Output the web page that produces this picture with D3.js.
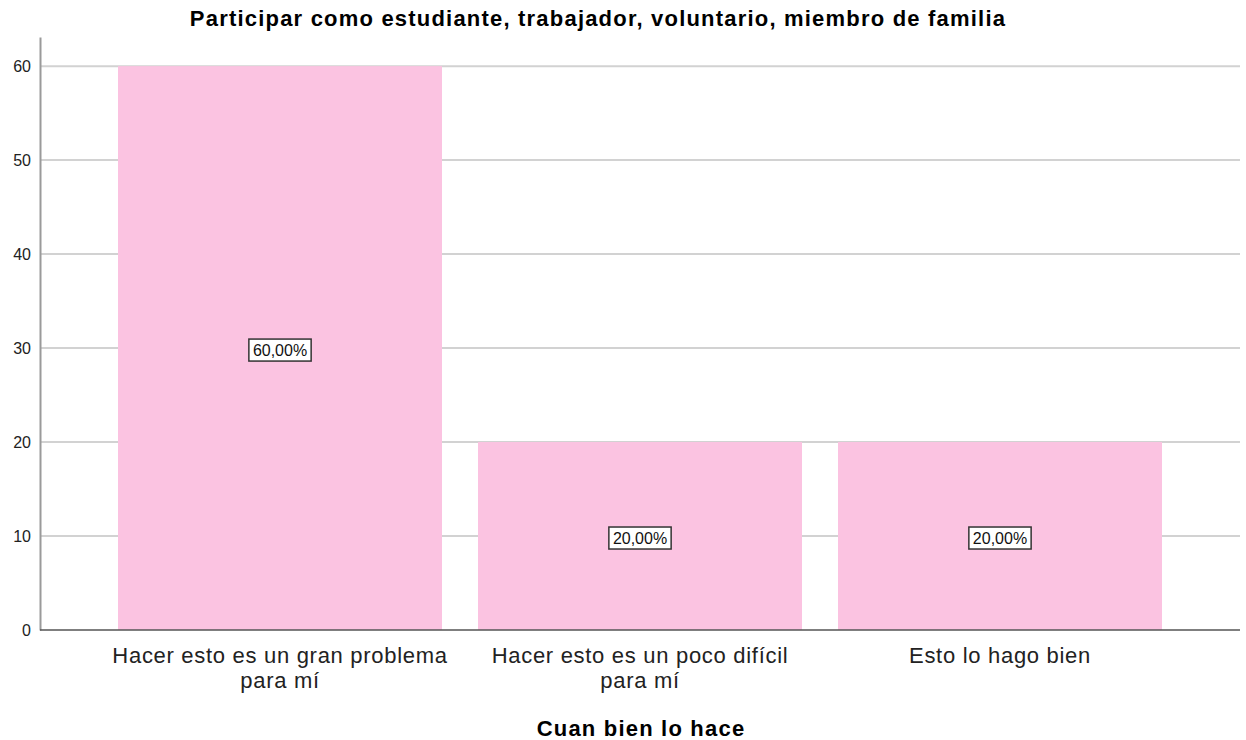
<!DOCTYPE html>
<html>
<head>
<meta charset="utf-8">
<script src="https://cdn.jsdelivr.net/npm/d3@7"></script>
<style>
  body { margin: 0; background: #fff; }
  text { font-family: "Liberation Sans", Arial, sans-serif; }
</style>
</head>
<body>
<svg id="chart" width="1246" height="740"></svg>
<script>
// chart data
var categories = ["Hacer esto es un gran problema\npara mí", "Hacer esto es un poco difícil\npara mí", "Esto lo hago bien"];
var values = [60, 20, 20];
var valueLabels = ["60,00%", "20,00%", "20,00%"];
var yTicks = [0, 10, 20, 30, 40, 50, 60];

var svg = d3.select("#chart");
var left = 40, right = 1240, bottom = 630;

// scales
var x = d3.scaleBand()
    .range([left, right])
    .domain(categories)
    .paddingInner(0.1)
    .paddingOuter(0.2167);

var y = d3.scaleLinear()
    .domain([0, 63.1])
    .range([bottom, 37]);

// gridlines
svg.append("g")
    .selectAll("line")
    .data(yTicks.slice(1))
    .enter()
    .append("line")
    .attr("x1", left)
    .attr("x2", right)
    .attr("y1", d => y(d))
    .attr("y2", d => y(d))
    .attr("stroke", "#d2d2d2")
    .attr("stroke-width", 2);

// bars
svg.append("g")
    .selectAll("rect")
    .data(values)
    .enter()
    .append("rect")
    .attr("x", (d, i) => x(categories[i]))
    .attr("y", d => y(d))
    .attr("width", x.bandwidth())
    .attr("height", d => bottom - y(d))
    .attr("fill", "#fbc3e1");

// y axis
var yAxis = svg.append("g")
    .attr("transform", "translate(" + left + ",0)")
    .call(d3.axisLeft(y).tickValues(yTicks).tickSize(0).tickPadding(9));
yAxis.select(".domain").attr("stroke", "#9a9a9a").attr("stroke-width", 2);
yAxis.selectAll("text")
    .style("font-size", "16px")
    .attr("fill", "#222");

// x axis
var xAxis = svg.append("g")
    .attr("transform", "translate(0," + bottom + ")")
    .call(d3.axisBottom(x).tickSize(0).tickPadding(0));
xAxis.select(".domain")
    .attr("d", "M" + left + ",0H" + right)
    .attr("stroke", "#555")
    .attr("stroke-width", 1.5);
xAxis.selectAll("text").each(function(d) {
    var t = d3.select(this).text("").attr("y", 0).attr("dy", null)
        .style("font-size", "22px")
        .style("letter-spacing", "0.7px")
        .attr("fill", "#222");
    d.split("\n").forEach((line, i) => {
        t.append("tspan")
            .attr("x", 0)
            .attr("y", 33 + i * 25)
            .text(line);
    });
});

// value labels in boxes
var labels = svg.append("g")
    .selectAll("g")
    .data(values)
    .enter()
    .append("g")
    .attr("transform", (d, i) => "translate(" + (x(categories[i]) + x.bandwidth() / 2) + "," + (y(d / 2) + 2) + ")");

labels.append("text")
    .attr("text-anchor", "middle")
    .attr("dy", "0.36em")
    .style("font-size", "16px")
    .attr("fill", "#111")
    .text((d, i) => valueLabels[i])
    .each(function() {
        var b = this.getBBox();
        d3.select(this.parentNode).insert("rect", "text")
            .attr("x", b.x - 4)
            .attr("y", -11)
            .attr("width", b.width + 8)
            .attr("height", 22)
            .attr("fill", "#fff")
            .attr("stroke", "#333")
            .attr("stroke-width", 1.5);
    });

// titles
svg.append("text")
    .attr("x", 598)
    .attr("y", 26)
    .attr("text-anchor", "middle")
    .style("font-size", "22px")
    .style("letter-spacing", "1.2px")
    .style("font-weight", "bold")
    .text("Participar como estudiante, trabajador, voluntario, miembro de familia");

svg.append("text")
    .attr("x", 641)
    .attr("y", 736)
    .attr("text-anchor", "middle")
    .style("font-size", "22px")
    .style("letter-spacing", "1.2px")
    .style("font-weight", "bold")
    .text("Cuan bien lo hace");
</script>
</body>
</html>
